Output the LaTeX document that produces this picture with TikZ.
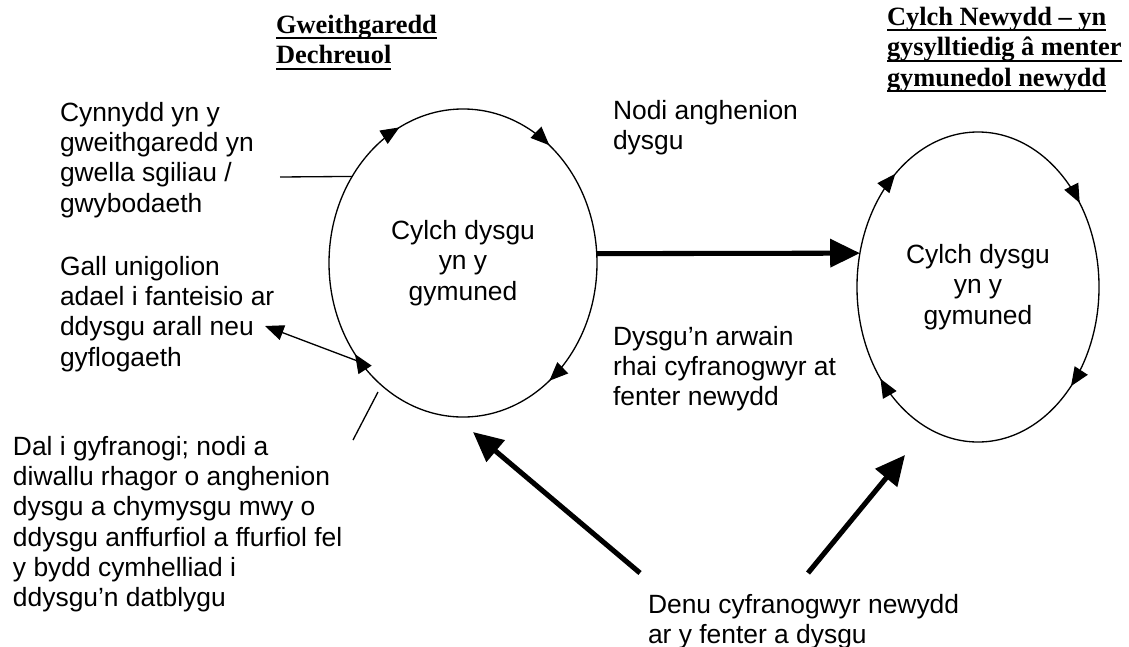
\documentclass[tikz,border=0pt]{standalone}
\usepackage{fontspec}
\setmainfont{Liberation Sans}
\newfontfamily\headfont{Liberation Serif}
\usetikzlibrary{shapes.geometric}
\usetikzlibrary{arrows.meta}
\usetikzlibrary{decorations.markings}
\tikzstyle{orbit}=[ellipse, inner sep=0pt, outer sep=0pt, align=center]
\tikzstyle{note}=[inner sep=0pt, outer sep=0pt, align=left, anchor=north west]
\tikzstyle{heading}=[note, font=\headfont\bfseries\fontsize{12pt}{13.8pt}\selectfont]
\tikzstyle{ring}=[line width=0.6pt, postaction={decorate}]
\tikzstyle{link}=[line width=0.6pt]
\tikzstyle{bigarrow}=[line width=2.3pt, -{Triangle[length=13.5pt, width=12.5pt]}]
\newcommand{\cyctip}{\arrow{Triangle[length=8.5pt, width=7pt]}}
\newcommand{\ulbar}[1]{\setbox0\hbox{#1}\rlap{\rule[-2.7pt]{\wd0}{0.9pt}}\box0}

\begin{document}
\begin{tikzpicture}[x=0.4545pt, y=-0.4545pt, font=\fontsize{12pt}{13.8pt}\selectfont]
  \useasboundingbox (0,0) rectangle (1129,646);

  % learning cycles
  \node[orbit, minimum width=121.8pt, minimum height=140pt] (lc) at (463,263)
    {Cylch dysgu\\yn y\\gymuned};
  \node[orbit, minimum width=110pt, minimum height=140.9pt] (rc) at (978,287)
    {Cylch dysgu\\yn y\\gymuned};
  \draw[ring, decoration={markings,
      mark=at position 0.176 with {\cyctip}, mark=at position 0.356 with {\cyctip},
      mark=at position 0.644 with {\cyctip}, mark=at position 0.894 with {\cyctip}}]
    (lc.west) arc[start angle=180, end angle=-180, x radius=60.9pt, y radius=70pt];
  \draw[ring, decoration={markings,
      mark=at position 0.14 with {\cyctip}, mark=at position 0.40 with {\cyctip},
      mark=at position 0.62 with {\cyctip}, mark=at position 0.89 with {\cyctip}}]
    (rc.west) arc[start angle=180, end angle=-180, x radius=55pt, y radius=70.45pt];

  % headings
  \node[heading] (start) at (276,15) {\ulbar{Gweithgaredd}\\\ulbar{Dechreuol}};
  \node[heading] (newc) at (887,7)
    {\ulbar{Cylch Newydd – yn}\\\ulbar{gysylltiedig â menter}\\\ulbar{gymunedol newydd}};

  % notes
  \node[note] (gain) at (60,102)
    {Cynnydd yn y\\gweithgaredd yn\\gwella sgiliau /\\gwybodaeth};
  \node[note] (leave) at (60,256)
    {Gall unigolion\\adael i fanteisio ar\\ddysgu arall neu\\gyflogaeth};
  \node[note] (stay) at (13,436)
    {Dal i gyfranogi; nodi a\\diwallu rhagor o anghenion\\dysgu a chymysgu mwy o\\ddysgu anffurfiol a ffurfiol fel\\y bydd cymhelliad i\\ddysgu’n datblygu};
  \node[note] (needs) at (613,100) {Nodi anghenion\\dysgu};
  \node[note] (lead) at (613,326)
    {Dysgu’n arwain\\rhai cyfranogwyr at\\fenter newydd};
  \node[note] (attract) at (648,594)
    {Denu cyfranogwyr newydd\\ar y fenter a dysgu};

  % free ends
  \coordinate (g0) at (280,177);
  \coordinate (l0) at (265,326);
  \coordinate (s0) at (378,392);
  \coordinate (s1) at (353,440);
  \coordinate (a0) at (640,573);
  \coordinate (a1) at (473,432);
  \coordinate (b0) at (808,573);
  \coordinate (b1) at (905,455);

  % connectors
  \draw[link] (g0) -- (lc.142);
  \draw[link, -{Triangle[length=8.5pt, width=7pt]}] (lc.224) -- (l0);
  \draw[link] (s0) -- (s1);
  \draw[bigarrow] (lc.4) -- (rc.164);
  \draw[bigarrow] (a0) -- (a1);
  \draw[bigarrow] (b0) -- (b1);
\end{tikzpicture}
\end{document}
